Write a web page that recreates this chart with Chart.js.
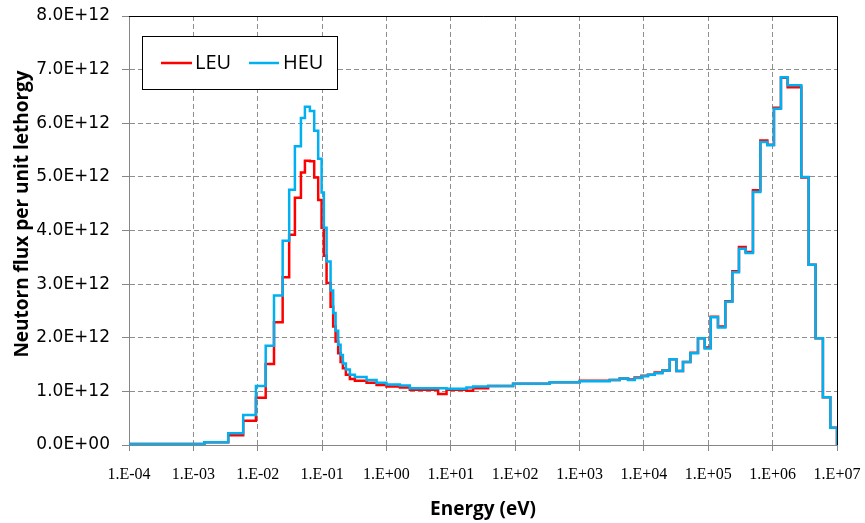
<!DOCTYPE html>
<html>
<head>
<meta charset="utf-8">
<script src="https://cdn.jsdelivr.net/npm/chart.js@4.4.1/dist/chart.umd.min.js"></script>
<style>
html,body{margin:0;padding:0;background:#ffffff;}
#wrap{width:865px;height:523px;position:relative;}
</style>
</head>
<body>
<div id="wrap"><canvas id="c" width="865" height="523"></canvas></div>
<script>
// Lower energy edge of each group (eV); the last entry is the upper edge of the last group
const energyEdges = [
  1.0e-4, 1.48e-3, 3.48e-3, 5.95e-3, 9.38e-3, 0.0133, 0.0179, 0.0244, 0.0308, 0.0378,
  0.0469, 0.0541, 0.0646, 0.0754, 0.0870, 0.0982, 0.1066, 0.1174, 0.1355, 0.1487,
  0.1621, 0.1778, 0.1938, 0.2104, 0.2342, 0.2702, 0.3231, 0.491, 0.702, 1.00,
  1.62, 2.31, 6.35, 8.58, 17.5, 22.2, 38.0, 92.8, 345, 1007,
  2943, 4209, 5664, 7196, 9146, 11580, 14720, 19380, 25160, 31970,
  40470, 52720, 69210, 87920, 1.09e5, 1.415e5, 1.843e5, 2.367e5, 2.998e5, 3.809e5,
  4.945e5, 6.442e5, 8.274e5, 1.048e6, 1.346e6, 1.710e6, 2.791e6, 3.622e6, 4.653e6, 6.041e6,
  7.870e6, 1.0e7
];
// Flux per unit lethargy, in units of 1E+12
const leuFlux = [
  0.02, 0.05, 0.18, 0.45, 0.88, 1.51, 2.29, 3.13, 3.92, 4.61,
  5.08, 5.30, 5.29, 4.99, 4.57, 4.05, 3.53, 3.02, 2.58, 2.21,
  1.93, 1.71, 1.55, 1.43, 1.31, 1.23, 1.20, 1.16, 1.12, 1.09,
  1.07, 1.03, 0.95, 1.03, 1.01, 1.06, 1.10, 1.14, 1.17, 1.20,
  1.21, 1.24, 1.22, 1.26, 1.29, 1.31, 1.35, 1.39, 1.60, 1.38,
  1.55, 1.72, 1.99, 1.82, 2.39, 2.21, 2.68, 3.24, 3.69, 3.60,
  4.75, 5.68, 5.60, 6.29, 6.85, 6.67, 4.99, 3.36, 1.99, 0.89,
  0.32
];
const heuFlux = [
  0.02, 0.05, 0.22, 0.56, 1.10, 1.85, 2.79, 3.81, 4.76, 5.57,
  6.10, 6.31, 6.23, 5.86, 5.34, 4.71, 4.05, 3.42, 2.88, 2.46,
  2.13, 1.87, 1.68, 1.52, 1.41, 1.31, 1.27, 1.21, 1.16, 1.13,
  1.11, 1.06, 1.06, 1.05, 1.07, 1.09, 1.10, 1.14, 1.17, 1.19,
  1.21, 1.24, 1.21, 1.25, 1.28, 1.31, 1.34, 1.39, 1.60, 1.38,
  1.55, 1.71, 1.99, 1.80, 2.38, 2.19, 2.67, 3.22, 3.66, 3.58,
  4.72, 5.65, 5.59, 6.27, 6.86, 6.71, 5.00, 3.36, 1.99, 0.89,
  0.32
];
const seriesNames = ['LEU', 'HEU'];
const seriesColors = ['#FF0000', '#00B0F0'];
const xTickValues = [1e-4, 1e-3, 1e-2, 1e-1, 1e0, 1e1, 1e2, 1e3, 1e4, 1e5, 1e6, 1e7];
const xTickLabels = ['1.E-04','1.E-03','1.E-02','1.E-01','1.E+00','1.E+01','1.E+02','1.E+03','1.E+04','1.E+05','1.E+06','1.E+07'];
const yTickValues = [0, 1, 2, 3, 4, 5, 6, 7, 8];
const yTickLabels = ['0.0E+00','1.0E+12','2.0E+12','3.0E+12','4.0E+12','5.0E+12','6.0E+12','7.0E+12','8.0E+12'];
const xTitle = 'Energy (eV)';
const yTitle = 'Neutorn flux per unit lethorgy';

function stepPoints(vals) {
  const pts = vals.map((v, i) => ({ x: energyEdges[i], y: v }));
  pts.push({ x: energyEdges[vals.length], y: 0 });
  return pts;
}

const frameAndLegend = {
  id: 'frameAndLegend',
  beforeDatasetsDraw(chart) {
    const ctx = chart.ctx, a = chart.chartArea;
    ctx.save();
    ctx.strokeStyle = '#000000';
    ctx.lineWidth = 1;
    ctx.beginPath();
    ctx.moveTo(a.left, Math.round(a.top) + 0.5);
    ctx.lineTo(Math.round(a.right) + 0.5, Math.round(a.top) + 0.5);
    ctx.lineTo(Math.round(a.right) + 0.5, a.bottom);
    ctx.stroke();
    ctx.restore();
  },
  afterDraw(chart) {
    const ctx = chart.ctx;
    ctx.save();
    // legend box
    ctx.fillStyle = '#ffffff';
    ctx.fillRect(142, 36, 196, 53);
    ctx.strokeStyle = '#000000';
    ctx.lineWidth = 1;
    ctx.strokeRect(142.5, 36.5, 195, 53);
    const items = [
      { x1: 161, x2: 192, tx: 195 },
      { x1: 249, x2: 279, tx: 283 }
    ];
    ctx.font = '20px "Open Sans"';
    ctx.textBaseline = 'middle';
    ctx.textAlign = 'left';
    items.forEach((it, i) => {
      ctx.strokeStyle = seriesColors[i];
      ctx.lineWidth = 2.5;
      ctx.beginPath();
      ctx.moveTo(it.x1, 63);
      ctx.lineTo(it.x2, 63);
      ctx.stroke();
      ctx.fillStyle = '#000000';
      ctx.fillText(seriesNames[i], it.tx, 63);
    });
    // y axis title
    ctx.translate(23, 214);
    ctx.rotate(-Math.PI / 2);
    ctx.font = 'bold 19px "Open Sans"';
    ctx.textAlign = 'center';
    ctx.fillStyle = '#000000';
    ctx.fillText(yTitle, 0, 0);
    ctx.restore();
  }
};

const gridColor = '#8e8e8e';
const axisColor = '#868686';

new Chart(document.getElementById('c'), {
  type: 'line',
  data: {
    datasets: [
      { label: seriesNames[0], data: stepPoints(leuFlux), borderColor: seriesColors[0], backgroundColor: seriesColors[0],
        borderWidth: 2.5, pointRadius: 0, stepped: 'before', fill: false, order: 1, borderJoinStyle: 'miter' },
      { label: seriesNames[1], data: stepPoints(heuFlux), borderColor: seriesColors[1], backgroundColor: seriesColors[1],
        borderWidth: 2.5, pointRadius: 0, stepped: 'before', fill: false, order: 0, borderJoinStyle: 'miter' }
    ]
  },
  options: {
    responsive: false,
    animation: false,
    events: [],
    layout: { padding: { top: 16, right: 28, bottom: 0, left: 0 } },
    plugins: { legend: { display: false }, tooltip: { enabled: false } },
    scales: {
      x: {
        type: 'logarithmic',
        min: 1e-4, max: 1e7,
        afterBuildTicks: s => { s.ticks = xTickValues.map(v => ({ value: v, major: true })); },
        afterFit: s => { s.height = 78; s.paddingLeft = 0; s.paddingRight = 0; },
        ticks: { autoSkip: false, maxRotation: 0, minRotation: 0, padding: 14, color: '#000000',
                 font: { family: 'Liberation Serif', size: 16 },
                 callback: (v, i) => xTickLabels[i] },
        grid: { color: gridColor, lineWidth: 1, tickLength: 6, tickColor: axisColor },
        border: { color: axisColor, width: 1, dash: [5, 3] },
        title: { display: true, text: xTitle, color: '#000000',
                 font: { family: 'Open Sans', weight: 'bold', size: 19 }, padding: { top: 0, bottom: 2 } }
      },
      y: {
        type: 'linear',
        min: 0, max: 8,
        afterBuildTicks: s => { s.ticks = yTickValues.map(v => ({ value: v })); },
        afterFit: s => { s.width = 129; s.paddingTop = 0; s.paddingBottom = 0; },
        ticks: { padding: 12, color: '#000000', font: { family: 'DejaVu Sans', size: 17 },
                 callback: (v, i) => yTickLabels[i] },
        grid: { color: gridColor, lineWidth: 1, tickLength: 7, tickColor: axisColor },
        border: { color: axisColor, width: 1, dash: [5, 3] }
      }
    }
  },
  plugins: [frameAndLegend]
});
</script>
</body>
</html>
